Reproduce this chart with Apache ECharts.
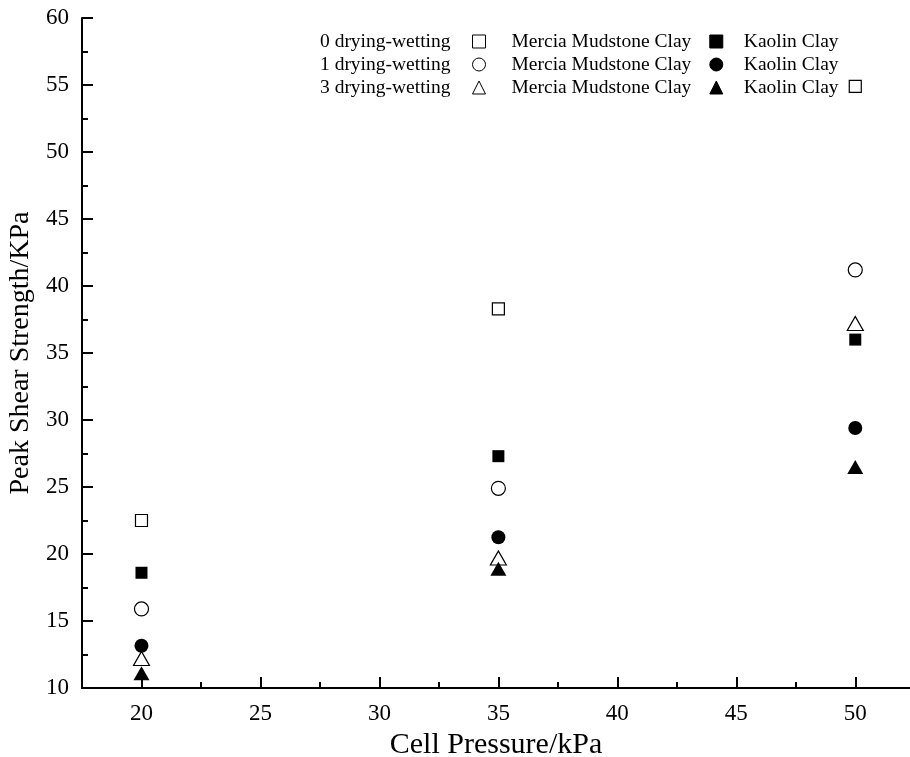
<!DOCTYPE html>
<html>
<head>
<meta charset="utf-8">
<script src="https://cdn.jsdelivr.net/npm/echarts@6/dist/echarts.min.js"></script>
<style>
html,body{margin:0;padding:0;background:#fff;}
#chart{width:910px;height:757px;}
</style>
</head>
<body>
<div id="chart"></div>
<script>
// ---- data ----
const xValues = [20, 35, 50];
const mercia0 = [22.5, 38.3, 54.9];
const kaolin0 = [18.6, 27.3, 36.0];
const mercia1 = [15.9, 24.9, 41.2];
const kaolin1 = [13.15, 21.25, 29.4];
const mercia3 = [12.2, 19.7, 37.2];
const kaolin3 = [11.1, 18.9, 26.5];
const xTickLabels = [20, 25, 30, 35, 40, 45, 50];
const xMinorTicks = [22.5, 27.5, 32.5, 37.5, 42.5, 47.5];
const rowLabels = ['0 drying-wetting', '1 drying-wetting', '3 drying-wetting'];
const claySoil = 'Mercia Mudstone Clay';
const clayKaolin = 'Kaolin Clay';

const FONT = '"Liberation Serif", "Times New Roman", serif';
const chart = echarts.init(document.getElementById('chart'), null, {renderer: 'canvas'});

function pts(arr) { return xValues.map((x, i) => [x, arr[i]]); }

const seriesDefs = [
  {id: 'm0', data: mercia0, symbol: 'rect', size: 12, open: true, label: claySoil},
  {id: 'k0', data: kaolin0, symbol: 'rect', size: 12, open: false, label: clayKaolin},
  {id: 'm1', data: mercia1, symbol: 'circle', size: 14, open: true, label: claySoil},
  {id: 'k1', data: kaolin1, symbol: 'circle', size: 14, open: false, label: clayKaolin},
  {id: 'm3', data: mercia3, symbol: 'triangle', size: [16, 14], open: true, label: claySoil},
  {id: 'k3', data: kaolin3, symbol: 'triangle', size: [16, 14], open: false, label: clayKaolin}
];
const nameMap = {};
seriesDefs.forEach(d => nameMap[d.id] = d.label);

const series = seriesDefs.map(d => ({
  type: 'scatter',
  name: d.id,
  data: pts(d.data),
  symbol: d.symbol,
  symbolSize: d.size,
  itemStyle: d.open ? {color: '#fff', borderColor: '#000', borderWidth: 1.2, opacity: 1}
                    : {color: '#000', borderColor: '#000', borderWidth: 0, opacity: 1},
  emphasis: {disabled: true}
}));

const rowY = [41.5, 64.5, 87.5];
const legends = [0, 1, 2].map(r => ({
  data: [
    {name: seriesDefs[2 * r].id},
    {name: seriesDefs[2 * r + 1].id, textStyle: {padding: [0, 0, 0, 16]}}
  ],
  left: 472,
  top: rowY[r] - 10,
  padding: 0,
  orient: 'horizontal',
  itemWidth: 13,
  itemHeight: 13,
  itemGap: 18,
  selectedMode: false,
  itemStyle: {borderWidth: 1},
  formatter: n => nameMap[n],
  textStyle: {fontFamily: FONT, fontSize: 19.5, color: '#000', padding: [0, 0, 0, 21]}
}));

const graphics = rowLabels.map((t, r) => ({
  type: 'text',
  left: 320,
  top: rowY[r] - 10,
  style: {text: t, font: '19.5px ' + FONT, fill: '#000'}
}));

const axisLineStyle = {color: '#000', width: 2};

chart.setOption({
  backgroundColor: '#fff',
  animation: false,
  grid: {left: 82, top: 18, right: 0, bottom: 69, outerBoundsMode: 'none'},
  legend: legends,
  graphic: graphics,
  xAxis: [{
    type: 'value',
    min: 17.5,
    max: 52.3,
    name: 'Cell Pressure/kPa',
    nameLocation: 'middle',
    nameGap: 37,
    nameTextStyle: {fontFamily: FONT, fontSize: 30, color: '#000'},
    axisLine: {show: true, onZero: false, lineStyle: axisLineStyle},
    axisTick: {show: true, inside: true, length: 11, customValues: xTickLabels, lineStyle: axisLineStyle},
    axisLabel: {customValues: xTickLabels, fontFamily: FONT, fontSize: 23, color: '#000', margin: 14},
    splitLine: {show: false}
  }, {
    type: 'value',
    position: 'bottom',
    min: 17.5,
    max: 52.3,
    axisLine: {show: false, onZero: false},
    axisTick: {show: true, inside: true, length: 6, customValues: xMinorTicks, lineStyle: axisLineStyle},
    axisLabel: {show: false},
    splitLine: {show: false}
  }],
  yAxis: {
    type: 'value',
    min: 10,
    max: 60,
    interval: 5,
    name: 'Peak Shear Strength/KPa',
    nameLocation: 'middle',
    nameGap: 42,
    nameTextStyle: {fontFamily: FONT, fontSize: 28, color: '#000'},
    axisLine: {show: true, onZero: false, lineStyle: axisLineStyle},
    axisTick: {show: true, inside: true, length: 11, lineStyle: axisLineStyle},
    minorTick: {show: true, splitNumber: 2, length: 6, lineStyle: {color: '#000', width: 2}},
    axisLabel: {fontFamily: FONT, fontSize: 23, color: '#000', margin: 13},
    splitLine: {show: false},
    minorSplitLine: {show: false}
  },
  series: series
});
</script>
</body>
</html>
